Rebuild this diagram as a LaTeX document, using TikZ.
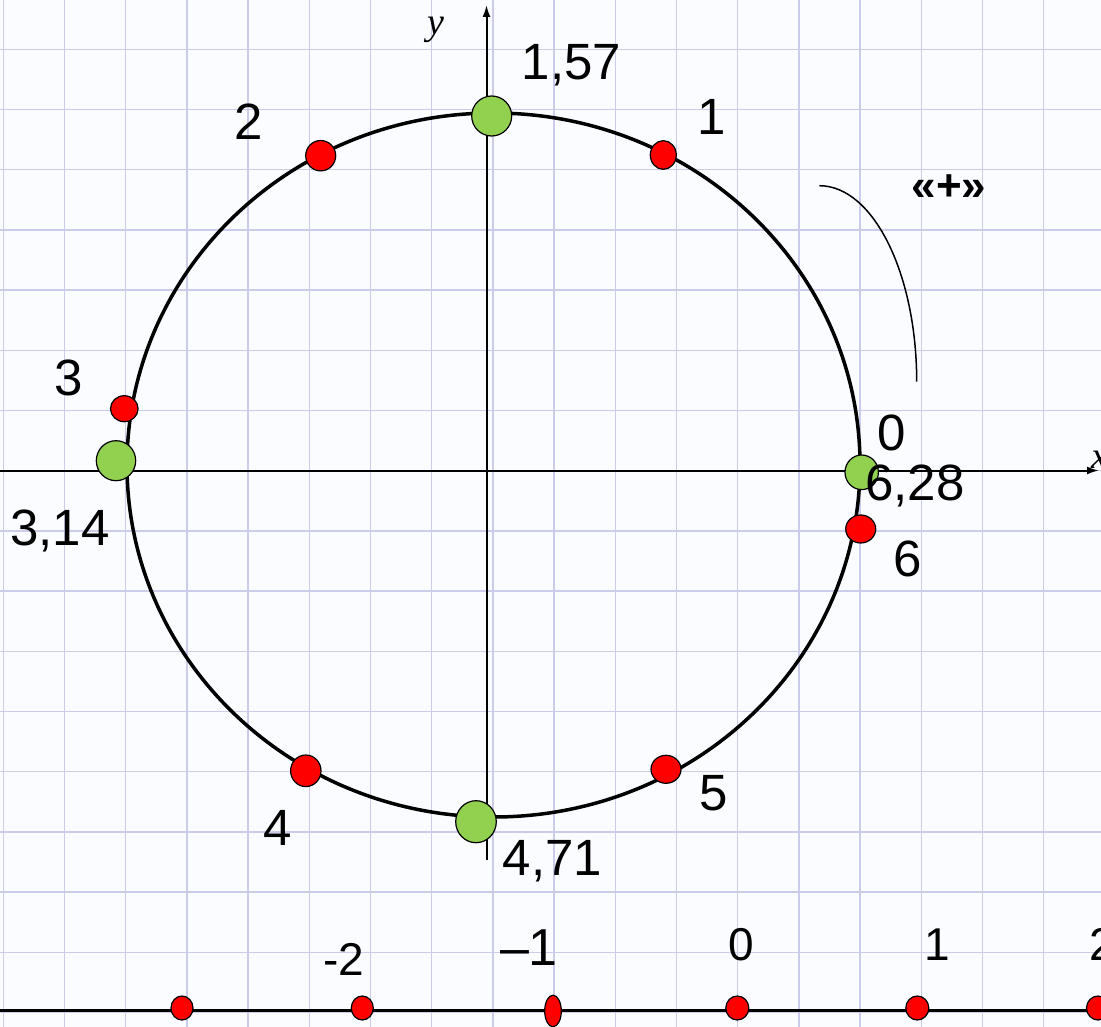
\documentclass[tikz,border=0pt]{standalone}
\usepackage{fontspec}
\setmainfont{Liberation Sans}
\newfontfamily\serifit{Liberation Serif}
\usetikzlibrary{arrows.meta,shapes.geometric}
\definecolor{gridc}{RGB}{202,204,234}
\definecolor{bgc}{RGB}{251,252,255}
\definecolor{dotred}{RGB}{255,0,0}
\definecolor{dotgreen}{RGB}{146,208,80}
\tikzset{
  reddot/.style={ellipse, draw=black, line width=1.2pt, fill=dotred, inner sep=0pt},
  greendot/.style={ellipse, draw=black, line width=1.2pt, fill=dotgreen, inner sep=0pt},
  lbl/.style={anchor=base, inner sep=0pt, font=\fontsize{51}{55}\selectfont},
  nlbl/.style={anchor=base, inner sep=0pt, font=\fontsize{46}{50}\selectfont},
  axisline/.style={line width=2pt, -{Latex[length=12pt,width=8pt]}},
  gridline/.style={gridc, line width=1.5pt},
  axlbl/.style={inner sep=0pt, font=\serifit\itshape\fontsize{38}{40}\selectfont}
}
\begin{document}
\begin{tikzpicture}[x=1pt,y=-1pt]
\useasboundingbox (0,0) rectangle (1101,1027);
\fill[bgc] (0,0) rectangle (1101,1027);
% grid
\foreach \i in {0,...,17} \draw[gridline] ({3.3+61.2*\i},0) -- ({3.3+61.2*\i},1027);
\foreach \j in {0,...,16} \draw[gridline] (0,{49.3+60.2*\j}) -- (1101,{49.3+60.2*\j});
% axes
\coordinate (ybot) at (486.5,860);
\coordinate (ytop) at (486.5,5);
\coordinate (xl) at (0,470.5);
\coordinate (xr) at (1099,470.5);
\draw[axisline] (ybot) -- (ytop);
\draw[axisline] (xl) -- (xr);
\node[axlbl] (ylab) at (435.7,29.7) {y};
\node[axlbl] (xlab) at (1100,460) {x};
% unit circle
\coordinate (O) at (493.5,465);
\draw[line width=3.5pt] (O) ellipse [x radius=366.5pt, y radius=352pt];
% direction arc
\coordinate (arcs) at (819.3,185.7);
\coordinate (arce) at (916.7,381.7);
\draw[line width=1.5pt] (arcs) .. controls (873.1,185.7) and (916.7,273.4) .. (arce);
\node[inner sep=0pt, font=\bfseries\fontsize{44}{48}\selectfont] (plus) at (949,188) {«+»};
% green points
\node[greendot, minimum width=40pt, minimum height=40pt] (g157) at (491.7,116) {};
\node[greendot, minimum width=39.4pt, minimum height=40pt] (g314) at (116,460.7) {};
\node[greendot, minimum width=40.6pt, minimum height=42pt] (g471) at (476,821.7) {};
\node[greendot, minimum width=33.4pt, minimum height=34.6pt] (g628) at (861.7,472.3) {};
% red points
\node[reddot, minimum width=26pt, minimum height=28.7pt] (r1) at (663.3,155) {};
\node[reddot, minimum width=30pt, minimum height=30.4pt] (r2) at (320.7,155.7) {};
\node[reddot, minimum width=27.6pt, minimum height=26pt] (r3) at (124.3,408.7) {};
\node[reddot, minimum width=30.4pt, minimum height=31.6pt] (r4) at (305.8,770.8) {};
\node[reddot, minimum width=30pt, minimum height=28pt] (r5) at (666,769.3) {};
\node[reddot, minimum width=30pt, minimum height=28pt] (r6) at (860.7,529) {};
% circle labels
\node[lbl] (l157) at (571.5,80) {1,57};
\node[lbl] (l2) at (248.3,140) {2};
\node[lbl] (l1) at (712,135) {1};
\node[lbl] (l3) at (68.3,395) {3};
\node[lbl] (l314) at (60,545) {3,14};
\node[lbl] (l0) at (891.7,450) {0};
\node[lbl] (l628) at (915,500) {6,28};
\node[lbl] (l6) at (908,576.7) {6};
\node[lbl] (l4) at (278,845) {4};
\node[lbl] (l471) at (552.5,875) {4,71};
\node[lbl] (l5) at (714,810) {5};
% number line
\coordinate (nl) at (0,1010.7);
\coordinate (nr) at (1101,1010.7);
\draw[line width=2.7pt] (nl) -- (nr);
\node[reddot, minimum width=22pt, minimum height=24pt] (nm3) at (182,1008) {};
\node[reddot, minimum width=22pt, minimum height=24pt] (nm2) at (362.3,1008) {};
\node[reddot, minimum width=16.6pt, minimum height=31.6pt] (nm1) at (553,1011) {};
\node[reddot, minimum width=23pt, minimum height=24pt] (n0) at (737.3,1008) {};
\node[reddot, minimum width=23pt, minimum height=24pt] (n1) at (917.3,1008) {};
\node[reddot, minimum width=23pt, minimum height=24pt] (n2) at (1098,1008) {};
\node[nlbl] (tm2) at (344,975) {-2};
\node[nlbl, font=\fontsize{52}{56}\selectfont] (tm1) at (529,965) {–1};
\node[nlbl] (t0) at (741.7,960) {0};
\node[nlbl] (t1) at (937,960) {1};
\node[nlbl] (t2) at (1102,960) {2};
\end{tikzpicture}
\end{document}
